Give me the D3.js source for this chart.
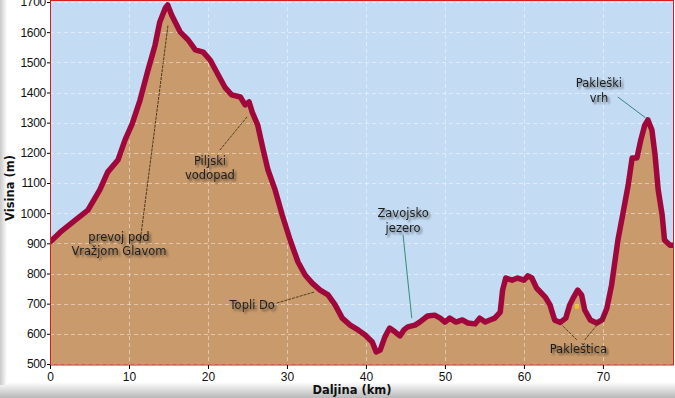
<!DOCTYPE html>
<html>
<head>
<meta charset="utf-8">
<script src="https://cdn.jsdelivr.net/npm/d3@7"></script>
<style>
  body { margin: 0; background: #fff; }
  svg { display: block; }
</style>
</head>
<body>
<div class="container"></div>
<script>
// elevation profile: distance (km) and height (m)
var distKm = [0, 1.3, 3.2, 4.8, 6.3, 7.3, 8.6, 9.5, 10.4, 11.4, 12.4, 13.3, 13.9, 14.6, 14.9, 15.4,
  16.5, 17.5, 18.4, 19.4, 20.3, 21.3, 22.2, 23.0, 24.1, 24.7, 25.2, 25.6, 26.3, 27.0, 27.6, 28.5,
  29.4, 30.4, 31.4, 32.3, 33.2, 34.2, 35.2, 36.1, 37.0, 38.0, 39.0, 39.9, 40.8, 41.3, 41.8, 42.4,
  43.0, 43.7, 44.3, 44.8, 45.3, 46.2, 46.8, 47.8, 48.7, 49.4, 50.0, 50.6, 51.4, 52.2, 52.9, 53.8,
  54.4, 55.1, 55.7, 56.3, 57.0, 57.3, 57.7, 58.5, 59.2, 60.0, 60.5, 61.0, 61.6, 62.7, 63.3, 63.9,
  64.6, 65.3, 65.8, 66.3, 66.8, 67.3, 67.7, 68.4, 69.2, 69.9, 70.5, 71.1, 71.9, 72.5, 73.2, 73.7,
  74.3, 74.8, 75.3, 75.7, 76.2, 76.6, 77.0, 77.5, 77.8, 78.5, 79.0];
var heightM = [904, 937, 977, 1010, 1077, 1136, 1176, 1243, 1296, 1375, 1474, 1557, 1634, 1680, 1690, 1657,
  1600, 1574, 1541, 1534, 1507, 1458, 1415, 1392, 1385, 1359, 1369, 1335, 1292, 1209, 1143, 1077,
  994, 911, 838, 795, 768, 745, 729, 696, 652, 629, 613, 596, 573, 540, 546, 590,
  619, 606, 593, 613, 623, 629, 639, 659, 662, 652, 639, 652, 639, 646, 636, 633,
  652, 639, 646, 652, 672, 745, 785, 778, 785, 778, 792, 785, 752, 722, 696, 645,
  638, 652, 696, 722, 745, 729, 679, 646, 636, 646, 685, 762, 911, 994, 1093, 1183,
  1183, 1243, 1292, 1309, 1276, 1193, 1077, 994, 911, 894, 894];

var xTicks = [0, 10, 20, 30, 40, 50, 60, 70];
var yTicks = [500, 600, 700, 800, 900, 1000, 1100, 1200, 1300, 1400, 1500, 1600, 1700];

// place names: text lines and anchor (km, m) of the first line
var labelText = [["prevoj pod", "Vražjom Glavom"], ["Piljski", "vodopad"], ["Topli Do"],
  ["Zavojsko", "jezero"], ["Pakleštica"], ["Pakleški", "vrh"]];
var labelAt = [[8.73, 908], [20.25, 1160], [25.6, 682], [44.7, 987], [66.9, 536], [69.5, 1418]];

// leader lines: label index, start (km, m), end on profile (km, m)
var leaderLabel = [0, 1, 2, 3, 4, 4, 5];
var leaderFrom = [[11.39, 902], [21.5, 1209], [28.7, 702], [44.7, 928], [66.7, 580], [67.7, 580], [71.9, 1385]];
var leaderTo = [[14.94, 1623], [24.94, 1319], [33.5, 739], [45.8, 652], [64.8, 629], [70.6, 672], [75.4, 1316]];
var leaderColor = ["#2a2008", "#3a2a10", "#3a2a10", "#127a50", "#3a2a10", "#3a2a10", "#1a6a6a"];

var W = 675, H = 398;
var m = { l: 50, r: 1, b: 365 };
var x = d3.scaleLinear().domain([0, 79]).range([m.l, W - m.r]);
var y = d3.scaleLinear().domain([500, 1700]).range([364, 2]);

var svg = d3.select(".container").append("svg").attr("width", W).attr("height", H);
var defs = svg.append("defs");

var gB = defs.append("linearGradient").attr("id", "frameB").attr("x1", 0).attr("y1", 0).attr("x2", 0).attr("y2", 1);
gB.append("stop").attr("offset", 0).attr("stop-color", "#ffffff");
gB.append("stop").attr("offset", 1).attr("stop-color", "#b8b8b8");
var gL = defs.append("linearGradient").attr("id", "frameL").attr("x1", 1).attr("y1", 0).attr("x2", 0).attr("y2", 0);
gL.append("stop").attr("offset", 0).attr("stop-color", "#ffffff");
gL.append("stop").attr("offset", 1).attr("stop-color", "#c8c8c8");

var sh = defs.append("filter").attr("id", "shadow").attr("x", -0.2).attr("y", -0.3).attr("width", 1.4).attr("height", 1.6);
sh.append("feGaussianBlur").attr("in", "SourceAlpha").attr("stdDeviation", 1.2).attr("result", "b");
sh.append("feOffset").attr("in", "b").attr("dx", 1.5).attr("dy", 1.5).attr("result", "o");
sh.append("feComponentTransfer").attr("in", "o").attr("result", "o2")
  .append("feFuncA").attr("type", "linear").attr("slope", 0.55);
var mg = sh.append("feMerge");
mg.append("feMergeNode").attr("in", "o2");
mg.append("feMergeNode").attr("in", "SourceGraphic");

defs.append("clipPath").attr("id", "plotClip")
  .append("rect").attr("x", m.l).attr("y", 0).attr("width", W - m.r - m.l).attr("height", m.b);

// frame shading
svg.append("rect").attr("x", 0).attr("y", 382).attr("width", W).attr("height", 16).style("fill", "url(#frameB)");
svg.append("rect").attr("x", 0).attr("y", 0).attr("width", 7).attr("height", 385).style("fill", "url(#frameL)");

var plot = svg.append("g").attr("clip-path", "url(#plotClip)");
plot.append("rect").attr("x", m.l).attr("y", 0).attr("width", W - m.r - m.l).attr("height", m.b)
  .style("fill", "#c3dbf3");

var pts = distKm.map(function (d, i) { return [d, heightM[i]]; });

var area = d3.area()
  .x(function (d) { return x(d[0]); })
  .y0(m.b)
  .y1(function (d) { return y(d[1]); });
plot.append("path").datum(pts).attr("d", area).style("fill", "#c89a6c");

// grid
plot.selectAll("line.gy").data(yTicks).enter().append("line")
  .attr("x1", m.l).attr("x2", W - m.r)
  .attr("y1", function (d) { return Math.round(y(d)) + 0.5; })
  .attr("y2", function (d) { return Math.round(y(d)) + 0.5; })
  .style("stroke", "#ffffff").style("stroke-opacity", 0.45).style("stroke-dasharray", "4,3");
plot.selectAll("line.gx").data(xTicks.slice(1)).enter().append("line")
  .attr("y1", 0).attr("y2", m.b)
  .attr("x1", function (d) { return Math.round(x(d)) + 0.5; })
  .attr("x2", function (d) { return Math.round(x(d)) + 0.5; })
  .style("stroke", "#ffffff").style("stroke-opacity", 0.45).style("stroke-dasharray", "4,3");

var line = d3.line()
  .x(function (d) { return x(d[0]); })
  .y(function (d) { return y(d[1]); });
plot.append("path").datum(pts).attr("d", line)
  .style("fill", "none").style("stroke", "#a0083c").style("stroke-width", 5.5)
  .style("stroke-linejoin", "round").style("stroke-linecap", "round");

// small marker near Pakleštica
plot.append("rect").attr("x", x(66.7) - 2).attr("y", y(690) - 2).attr("width", 4).attr("height", 4).style("fill", "#f0c020");

// leaders
svg.append("g").selectAll("line").data(leaderLabel).enter().append("line")
  .attr("x1", function (d, i) { return x(leaderFrom[i][0]); })
  .attr("y1", function (d, i) { return y(leaderFrom[i][1]); })
  .attr("x2", function (d, i) { return x(leaderTo[i][0]); })
  .attr("y2", function (d, i) { return y(leaderTo[i][1]); })
  .style("stroke", function (d, i) { return leaderColor[i]; })
  .style("stroke-width", 0.8)
  .style("stroke-dasharray", function (d) { return (d === 3 || d === 5) ? null : "3,1"; });

// labels
var tg = svg.append("g").attr("filter", "url(#shadow)");
labelText.forEach(function (t, i) {
  var txt = tg.append("text")
    .attr("x", x(labelAt[i][0])).attr("y", y(labelAt[i][1]))
    .attr("text-anchor", "middle")
    .style("font-family", "'DejaVu Sans', Verdana, sans-serif").style("font-size", "11.5px")
    .style("fill", "#1e1e1e");
  t.forEach(function (s, k) {
    txt.append("tspan").attr("x", x(labelAt[i][0])).attr("dy", k === 0 ? 0 : 14.5).text(s);
  });
});

// plot border
svg.append("rect").attr("x", m.l + 0.5).attr("y", 0.5).attr("width", W - m.r - m.l - 1).attr("height", m.b - 0.5)
  .style("fill", "none").style("stroke", "#d42020").style("stroke-width", 1);

// axes
var xAxis = d3.axisBottom(x).tickValues(xTicks).tickSize(4).tickSizeOuter(0);
var gx = svg.append("g").attr("transform", "translate(0," + m.b + ")").call(xAxis);
gx.select(".domain").remove();
gx.selectAll("line").style("stroke", "#000");
gx.selectAll("text").attr("dy", null).attr("y", 15.5)
  .style("font-family", "'Liberation Sans', Arial, sans-serif").style("font-size", "12px").style("fill", "#111");

var yAxis = d3.axisLeft(y).tickValues(yTicks).tickFormat(d3.format("d")).tickSize(3).tickSizeOuter(0);
var gy = svg.append("g").attr("transform", "translate(" + m.l + ",0)").call(yAxis);
gy.select(".domain").remove();
gy.selectAll("line").style("stroke", "#000");
gy.selectAll("text").attr("x", -4)
  .style("font-family", "'Liberation Sans', Arial, sans-serif").style("font-size", "12px")
  .style("letter-spacing", "-0.3px").style("fill", "#111");

svg.append("text").attr("x", 352).attr("y", 394).attr("text-anchor", "middle")
  .style("font-family", "'DejaVu Sans', Verdana, sans-serif").style("font-size", "11.5px").style("font-weight", "bold")
  .style("fill", "#111").text("Daljina (km)");
svg.append("text").attr("transform", "translate(14,188) rotate(-90)").attr("text-anchor", "middle")
  .style("font-family", "'DejaVu Sans', Verdana, sans-serif").style("font-size", "11.5px").style("font-weight", "bold")
  .style("fill", "#111").text("Visina (m)");
</script>
</body>
</html>
